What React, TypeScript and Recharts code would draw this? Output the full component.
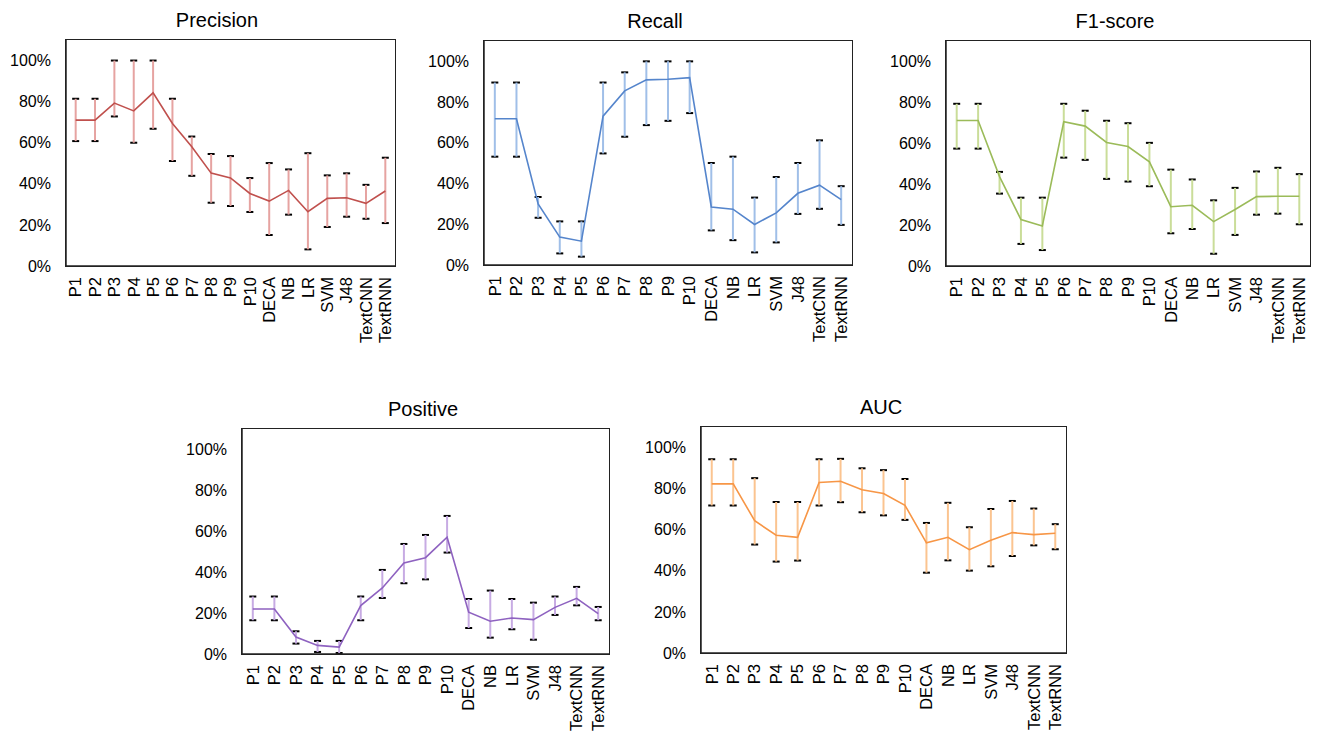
import React from 'react';
import { LineChart, Line, XAxis, YAxis, ErrorBar } from 'recharts';

const categories = ['P1', 'P2', 'P3', 'P4', 'P5', 'P6', 'P7', 'P8', 'P9', 'P10', 'DECA', 'NB', 'LR', 'SVM', 'J48', 'TextCNN', 'TextRNN'];
const yTicks = [0, 0.2, 0.4, 0.6, 0.8, 1];

const precisionValues = [71.0, 71.0, 79.3, 75.5, 84.3, 69.4, 58.0, 45.2, 42.9, 35.3, 31.6, 36.8, 26.4, 32.9, 33.2, 30.5, 36.5];
const precisionLow = [60.8, 60.8, 72.8, 60.0, 66.8, 51.1, 43.9, 30.8, 29.2, 26.3, 15.1, 25.0, 8.1, 19.0, 24.0, 23.0, 20.9];
const precisionHigh = [81.4, 81.4, 100, 100, 100, 81.4, 63.0, 54.5, 53.5, 42.8, 50.1, 47.0, 54.9, 44.1, 45.1, 39.5, 52.7];

const recallValues = [71.8, 71.8, 30.0, 13.7, 11.7, 73.1, 85.5, 90.9, 91.2, 92.0, 28.5, 27.4, 19.9, 25.6, 35.2, 39.2, 32.1];
const recallLow = [53.2, 53.2, 23.2, 5.7, 4.1, 54.8, 63.0, 68.7, 70.8, 74.6, 17.0, 12.2, 6.2, 11.1, 25.1, 27.6, 19.7];
const recallHigh = [89.6, 89.6, 33.4, 21.4, 21.4, 89.6, 94.6, 100, 100, 100, 50.1, 53.2, 33.1, 43.2, 50.1, 61.2, 38.7];

const f1Values = [71.1, 71.1, 43.7, 22.7, 19.6, 70.5, 68.4, 60.4, 58.4, 50.9, 29.0, 29.7, 21.7, 27.6, 33.9, 34.1, 34.1];
const f1Low = [57.4, 57.4, 35.4, 10.8, 7.8, 53.0, 51.9, 42.6, 41.3, 39.0, 16.0, 18.1, 6.0, 15.2, 25.1, 25.6, 20.4];
const f1High = [79.3, 79.3, 46.0, 33.4, 33.4, 79.3, 75.9, 71.0, 69.8, 60.2, 47.1, 42.3, 32.1, 38.2, 46.2, 48.0, 44.9];

const positiveValues = [22.0, 22.0, 8.3, 4.2, 3.4, 23.7, 32.3, 44.5, 47.1, 57.1, 20.4, 16.0, 17.6, 16.8, 22.8, 27.2, 19.7];
const positiveLow = [16.5, 16.5, 5.1, 1.0, 0.5, 16.5, 27.4, 34.6, 36.5, 49.6, 12.7, 8.0, 12.1, 7.0, 19.1, 23.8, 16.5];
const positiveHigh = [28.1, 28.1, 11.1, 6.4, 6.4, 28.1, 41.1, 53.8, 58.2, 67.5, 26.9, 31.0, 26.9, 25.1, 28.1, 32.8, 23.0];

const aucValues = [82.3, 82.3, 64.4, 57.3, 56.3, 83.0, 83.6, 79.5, 77.6, 71.9, 53.6, 56.3, 50.3, 54.9, 58.6, 57.6, 58.3];
const aucLow = [71.8, 71.8, 52.8, 44.5, 45.0, 71.8, 73.4, 68.5, 67.0, 64.8, 39.1, 45.1, 40.1, 42.2, 47.2, 52.4, 50.5];
const aucHigh = [94.3, 94.3, 85.1, 73.5, 73.5, 94.3, 94.5, 89.9, 89.0, 84.7, 63.3, 73.1, 61.2, 70.1, 74.0, 70.3, 62.7];

const FONT = '"Liberation Sans", Arial, Helvetica, sans-serif';
const AXIS_STYLE = { stroke: '#222', strokeWidth: 1.5 };

const XTick = (props: any) => {
  const { x, y, payload } = props;
  return (
    <text
      x={0}
      y={0}
      transform={`translate(${x},${y}) rotate(-90)`}
      textAnchor="end"
      dy="0.35em"
      fontSize={16.5}
      fill="#000"
      fontFamily={FONT}
    >
      {payload.value}
    </text>
  );
};

type PanelProps = {
  title: string;
  color: string;
  light: string;
  values: number[];
  lows: number[];
  highs: number[];
  plot: { x: number; y: number; w: number; h: number };
  titleX: number;
  titleY: number;
};

function Panel({ title, color, light, values, lows, highs, plot, titleX, titleY }: PanelProps) {
  const data = categories.map((name, i) => ({
    name,
    value: values[i] / 100,
    err: [(values[i] - lows[i]) / 100, (highs[i] - values[i]) / 100],
  }));
  const ML = 60;
  const MT = 30;
  const MR = 10;
  const XH = 110;
  const pad = plot.w / 34;
  return (
    <>
      <div
        style={{
          position: 'absolute',
          left: titleX - 100,
          width: 200,
          top: titleY - 10,
          lineHeight: '20px',
          fontSize: 20,
          textAlign: 'center',
          fontFamily: FONT,
          color: '#000',
        }}
      >
        {title}
      </div>
      <div style={{ position: 'absolute', left: plot.x - ML, top: plot.y - MT, fontFamily: FONT }}>
        <LineChart
          width={ML + plot.w + MR}
          height={MT + plot.h + XH}
          data={data}
          margin={{ top: MT, right: MR, left: 0, bottom: 0 }}
        >
          <XAxis
            dataKey="name"
            interval={0}
            tick={<XTick />}
            tickLine={false}
            tickSize={0}
            tickMargin={11}
            height={XH}
            axisLine={AXIS_STYLE}
            padding={{ left: pad, right: pad }}
          />
          <YAxis
            width={ML}
            type="number"
            domain={[0, 1.1]}
            ticks={yTicks}
            interval={0}
            tickFormatter={(v: number) => `${Math.round(v * 100)}%`}
            tickLine={false}
            tickSize={0}
            tickMargin={15}
            tick={{ fontSize: 16, fill: '#000', fontFamily: FONT }}
            axisLine={AXIS_STYLE}
          />
          <Line
            type="linear"
            dataKey="value"
            stroke={color}
            strokeWidth={1.6}
            dot={false}
            activeDot={false}
            isAnimationActive={false}
          >
            <ErrorBar dataKey="err" width={3.5} stroke="#000" strokeWidth={2} isAnimationActive={false} />
            <ErrorBar dataKey="err" width={0} stroke={light} strokeWidth={2} isAnimationActive={false} />
          </Line>
        </LineChart>
      </div>
      <div
        style={{
          position: 'absolute',
          left: plot.x - 0.75,
          top: plot.y - 0.75,
          width: plot.w + 1.5,
          height: plot.h + 1.5,
          border: '1.5px solid #222',
          boxSizing: 'border-box',
          pointerEvents: 'none',
        }}
      />
    </>
  );
}

const HIDE_BLACK_STEM = `
.recharts-errorBar > line[stroke="#000"]:nth-child(2),
.recharts-errorBar[stroke="#000"] > line:nth-child(2) { display: none; }
`;

export default function App() {
  return (
    <div style={{ position: 'absolute', left: 0, top: 0, width: 1322, height: 735, background: '#fff' }}>
      <style>{HIDE_BLACK_STEM}</style>
      <Panel
        title="Precision"
        color="#C0504D"
        light="#E6A3A1"
        values={precisionValues}
        lows={precisionLow}
        highs={precisionHigh}
        plot={{ x: 66, y: 40, w: 329, h: 226 }}
        titleX={217}
        titleY={20}
      />
      <Panel
        title="Recall"
        color="#5585CC"
        light="#A0BFE8"
        values={recallValues}
        lows={recallLow}
        highs={recallHigh}
        plot={{ x: 484, y: 41, w: 368, h: 224 }}
        titleX={655}
        titleY={21}
      />
      <Panel
        title="F1-score"
        color="#9BBB59"
        light="#CADD99"
        values={f1Values}
        lows={f1Low}
        highs={f1High}
        plot={{ x: 946, y: 41, w: 364, h: 225 }}
        titleX={1115}
        titleY={21}
      />
      <Panel
        title="Positive"
        color="#8E62C0"
        light="#C7ABE3"
        values={positiveValues}
        lows={positiveLow}
        highs={positiveHigh}
        plot={{ x: 242, y: 429, w: 367, h: 225 }}
        titleX={423}
        titleY={409}
      />
      <Panel
        title="AUC"
        color="#F79646"
        light="#FBC490"
        values={aucValues}
        lows={aucLow}
        highs={aucHigh}
        plot={{ x: 701, y: 427, w: 365, h: 226 }}
        titleX={881}
        titleY={407}
      />
    </div>
  );
}
